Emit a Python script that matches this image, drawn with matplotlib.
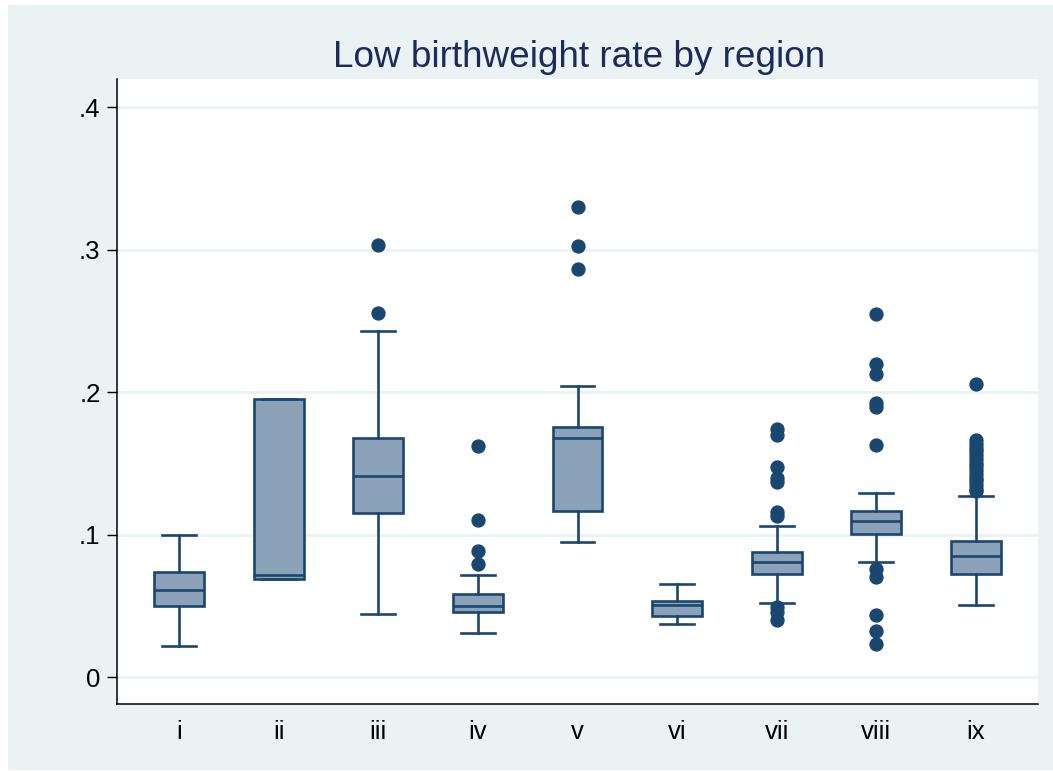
import matplotlib
matplotlib.use("Agg")
import matplotlib.pyplot as plt
from matplotlib.patches import Rectangle

# ---- data ----
regions = ["i", "ii", "iii", "iv", "v", "vi", "vii", "viii", "ix"]
q1 = [0.0498, 0.0688, 0.1151, 0.0458, 0.1165, 0.0430, 0.0728, 0.1008, 0.0725]
med = [0.0613, 0.0721, 0.1410, 0.0500, 0.1677, 0.0508, 0.0809, 0.1095, 0.0849]
q3 = [0.0739, 0.1956, 0.1677, 0.0587, 0.1760, 0.0533, 0.0879, 0.1167, 0.0954]
whislo = [0.0220, 0.0688, 0.0442, 0.0311, 0.0947, 0.0377, 0.0519, 0.0807, 0.0505]
whishi = [0.0996, 0.1956, 0.2428, 0.0721, 0.2042, 0.0653, 0.1065, 0.1293, 0.1270]
outliers = [
    [],
    [],
    [0.3032, 0.2554],
    [0.1623, 0.1102, 0.0884, 0.0798],
    [0.3298, 0.3025, 0.2868],
    [],
    [0.1745, 0.1698, 0.1476, 0.1400, 0.1370, 0.1160, 0.1130, 0.0493, 0.0460, 0.0400],
    [0.2552, 0.2196, 0.2126, 0.1925, 0.1897, 0.1633, 0.0763, 0.0704, 0.0440, 0.0323, 0.0236],
    [0.2061, 0.1663, 0.1640, 0.1610, 0.1585, 0.1560, 0.1535, 0.1505, 0.1480, 0.1455,
     0.1430, 0.1400, 0.1375, 0.1350, 0.1325, 0.1305],
]
yticks = [0, 0.1, 0.2, 0.3, 0.4]
yticklabels = ["0", ".1", ".2", ".3", ".4"]
title = "Low birthweight rate by region"

# ---- styling ----
navy = "#1a476f"
fill = "#8ca2b8"
bg = "#eaf2f3"
plt.rcParams["font.family"] = ["Liberation Sans", "DejaVu Sans"]

W, H = 1053, 771
fig = plt.figure(figsize=(W / 100, H / 100), dpi=100)
fig.patch.set_facecolor("white")
fig.patches.append(Rectangle((8 / W, 1 / H), 1045 / W, 765 / H,
                             transform=fig.transFigure, facecolor=bg,
                             edgecolor="none", zorder=-10))

ax = fig.add_axes([117 / W, (H - 704) / H, 921 / W, 625 / H])
ax.set_facecolor("white")

stats = []
for i, name in enumerate(regions):
    stats.append(dict(label=name, q1=q1[i], med=med[i], q3=q3[i],
                      whislo=whislo[i], whishi=whishi[i], fliers=outliers[i]))

positions = list(range(1, len(regions) + 1))
lw = 1.9
ax.bxp(stats, positions=positions, widths=0.5, capwidths=0.34,
       patch_artist=True, showfliers=True,
       boxprops=dict(facecolor=fill, edgecolor=navy, linewidth=lw),
       medianprops=dict(color=navy, linewidth=lw),
       whiskerprops=dict(color=navy, linewidth=lw),
       capprops=dict(color=navy, linewidth=lw),
       flierprops=dict(marker="o", markerfacecolor=navy, markeredgecolor=navy,
                       markersize=9.3, linestyle="none"),
       zorder=3)

ax.set_xlim(0.3775, 9.6225)
ax.set_ylim(-0.01874, 0.4199)
ax.set_yticks(yticks)
ax.set_yticklabels(yticklabels)
ax.set_xticks(positions)
ax.set_xticklabels(regions)

for y in yticks:
    ax.axhline(y, color=bg, linewidth=2.0, zorder=1)

for s in ["top", "right"]:
    ax.spines[s].set_visible(False)
for s in ["left", "bottom"]:
    ax.spines[s].set_color("black")
    ax.spines[s].set_linewidth(1.1)

ax.tick_params(axis="y", length=7.5, width=1.0, pad=4.3, labelsize=18.5,
               color="black", labelcolor="black")
ax.tick_params(axis="x", length=0, pad=11.5, labelsize=18.5, labelcolor="black")

fig.text(579.5 / W, (H - 67) / H, title, ha="center", va="baseline",
         fontsize=26.6, color="#1c2b5a")

fig.savefig("out.png", dpi=100, facecolor=fig.get_facecolor())
